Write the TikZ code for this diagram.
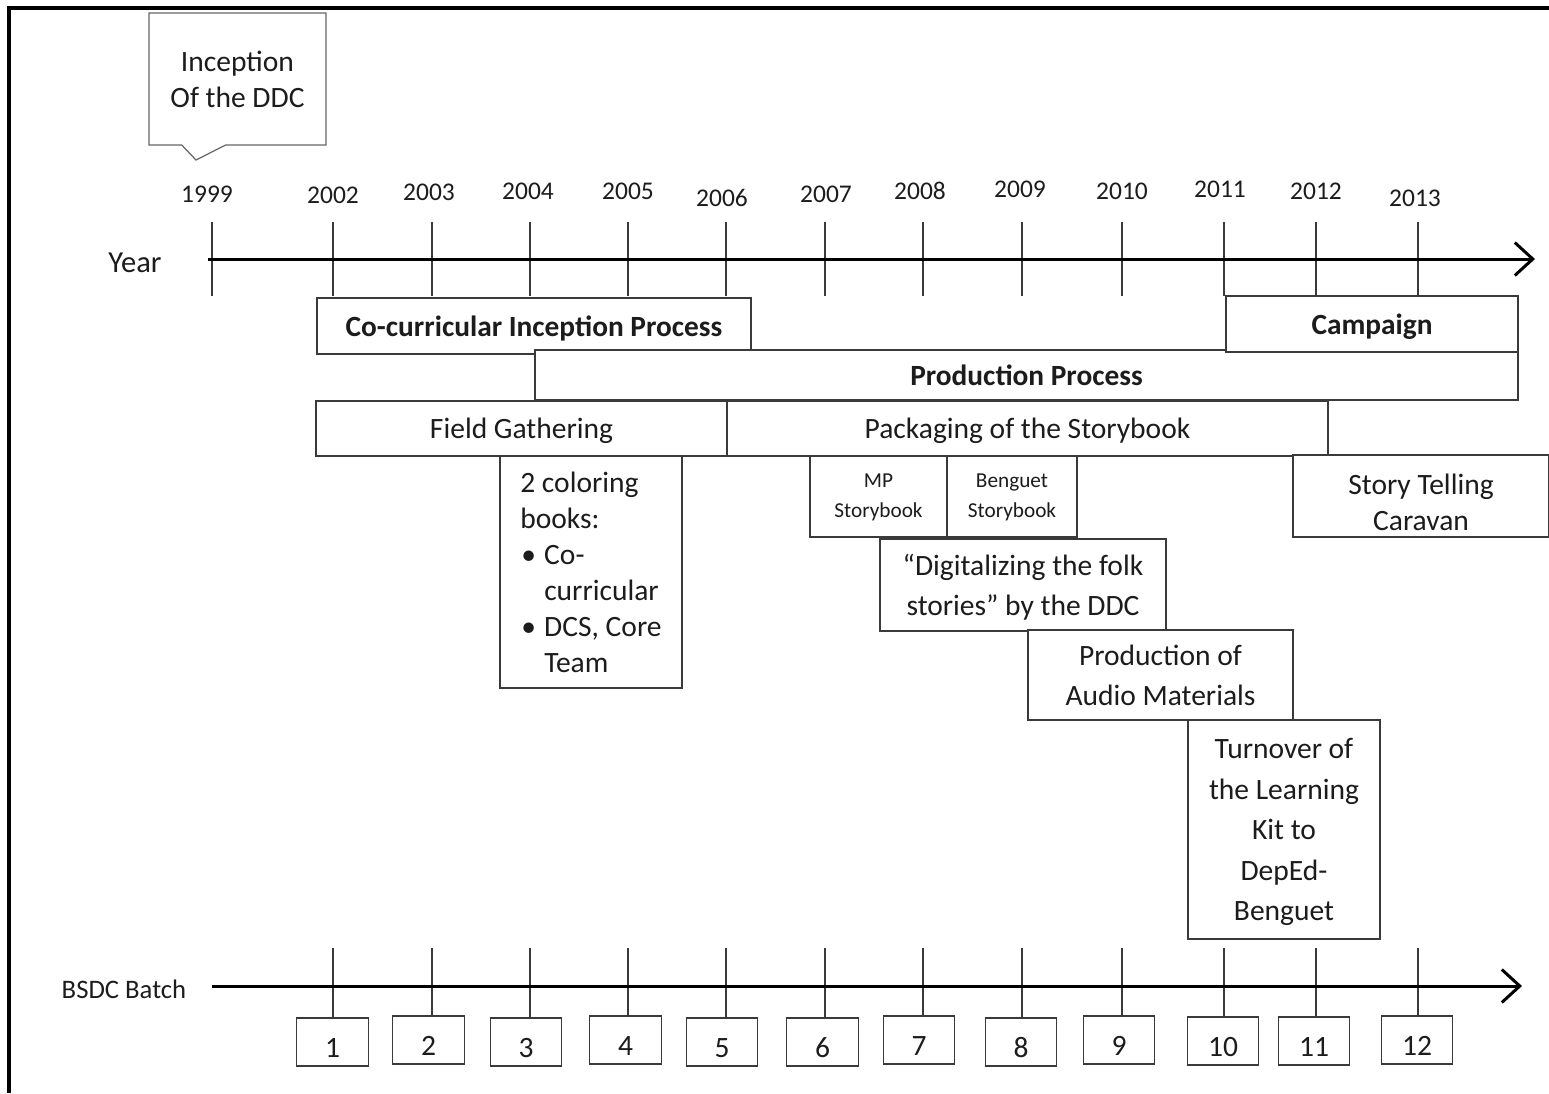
\documentclass[tikz,border=0pt]{standalone}
\usepackage{fontspec}
\setmainfont{Carlito}
\usepackage{xcolor}
\usepackage{tikz}
\usetikzlibrary{arrows.meta,shapes.callouts}
\definecolor{clinea}{HTML}{3A3A3A}
\definecolor{ctexto}{HTML}{1C1C1C}
\newcommand{\bul}{\makebox[13.6pt][l]{\hspace{0.6pt}\textbullet}}
\newcommand{\ind}{\hspace*{13.6pt}}
\tikzset{
  bar/.style={rectangle, draw=clinea, fill=white, line width=0.8pt, align=center,
    inner sep=2pt, text=ctexto, text depth=0pt, font=\fontsize{16.8}{20.5}\selectfont},
  barb/.style={bar, font=\fontsize{16.7}{20.5}\selectfont\bfseries},
  barp/.style={bar, text depth=1pt, font=\fontsize{12.1}{17}\selectfont},
  lote/.style={bar, minimum width=1.43cm, minimum height=0.96cm,
    font=\fontsize{16.8}{18}\selectfont, text height=17.3pt, text depth=0pt},
  anio/.style={font=\fontsize{14.5}{16}\selectfont, text=ctexto},
  etq/.style={text=ctexto},
  marca/.style={draw=clinea, line width=0.8pt},
  eje/.style={-{Straight Barb[length=3.6mm,width=6.6mm]}, line width=1.7pt, draw=black},
}
\begin{document}
\begin{tikzpicture}[x=0.02cm, y=-0.02cm]
  \useasboundingbox (0,0) rectangle (1549,1093);
  \draw[line width=2pt] (9,1093) -- (9,8) -- (1549,8);

  % year axis
  \node[rectangle callout, draw=gray!80!black, line width=0.7pt, minimum width=3.54cm,
    minimum height=2.64cm, align=center, text=ctexto, callout pointer width=0.88cm,
    callout absolute pointer={(196,160)}, font=\fontsize{16.8}{20.5}\selectfont]
    (inic) at (237.5,79) {Inception\\Of the DDC};
  \node[etq, font=\fontsize{17.4}{20}\selectfont] (year) at (135,263) {Year};
  \coordinate (ys) at (208,259); \coordinate (ye) at (1535,259);
  \node[anio] (a1999) at (207,194) {1999}; \node[anio] (a2002) at (333,195) {2002};
  \node[anio] (a2003) at (429,192) {2003}; \node[anio] (a2004) at (528,191) {2004};
  \node[anio] (a2005) at (628,191) {2005}; \node[anio] (a2006) at (722,198) {2006};
  \node[anio] (a2007) at (826,194) {2007}; \node[anio] (a2008) at (920,191) {2008};
  \node[anio] (a2009) at (1020,189) {2009}; \node[anio] (a2010) at (1122,191) {2010};
  \node[anio] (a2011) at (1220,189) {2011}; \node[anio] (a2012) at (1316,191) {2012};
  \node[anio] (a2013) at (1415,198) {2013};
  \coordinate (t1) at (212,222); \coordinate (t2) at (333,222); \coordinate (t3) at (432,222);
  \coordinate (t4) at (530,222); \coordinate (t5) at (628,222); \coordinate (t6) at (726,222);
  \coordinate (t7) at (825,222); \coordinate (t8) at (923,222); \coordinate (t9) at (1022,222);
  \coordinate (t10) at (1122,222); \coordinate (t11) at (1224,222); \coordinate (t12) at (1316,222);
  \coordinate (t13) at (1418,222);
  \draw[marca] (t1) -- ++(0,74); \draw[marca] (t2) -- ++(0,74); \draw[marca] (t3) -- ++(0,74);
  \draw[marca] (t4) -- ++(0,74); \draw[marca] (t5) -- ++(0,74); \draw[marca] (t6) -- ++(0,74);
  \draw[marca] (t7) -- ++(0,74); \draw[marca] (t8) -- ++(0,74); \draw[marca] (t9) -- ++(0,74);
  \draw[marca] (t10) -- ++(0,74); \draw[marca] (t11) -- ++(0,74); \draw[marca] (t12) -- ++(0,74);
  \draw[marca] (t13) -- ++(0,74);
  \draw[eje] (ys) -- (ye);

  % phases
  \node[barb, minimum width=8.68cm, minimum height=1.12cm] (cocur) at (534,326) {Co-curricular Inception Process};
  \node[barb, minimum width=19.66cm, minimum height=1.0cm] (prod) at (1026.5,375) {Production Process};
  \node[barb, minimum width=5.84cm, minimum height=1.12cm] (camp) at (1372,324) {Campaign};
  \node[bar, minimum width=8.22cm, minimum height=1.1cm] (field) at (521.5,428.5) {Field Gathering};
  \node[bar, minimum width=12.02cm, minimum height=1.1cm] (pack) at (1027.5,428.5) {Packaging of the Storybook};
  \node[bar, minimum width=3.64cm, minimum height=4.64cm, align=left]
    (color) at (591,572) {2 coloring\\books:\\\bul Co-\\\ind curricular\\\bul DCS, Core\\\ind Team};
  \node[barp, minimum width=2.74cm, minimum height=1.62cm] (mp) at (878.5,496.5) {MP\\Storybook};
  \node[barp, minimum width=2.6cm, minimum height=1.62cm] (beng) at (1012,496.5) {Benguet\\Storybook};
  \node[bar, minimum width=5.12cm, minimum height=1.64cm] (story) at (1421,496) {\rule{0pt}{18.3pt}Story Telling\\Caravan};
  \node[bar, minimum width=5.72cm, minimum height=1.84cm, font=\fontsize{16.8}{23}\selectfont]
    (digit) at (1023,585) {``Digitalizing the folk\\stories'' by the DDC};
  \node[bar, minimum width=5.3cm, minimum height=1.8cm, font=\fontsize{16.8}{23}\selectfont]
    (audio) at (1160.5,675) {Production of\\Audio Materials};
  \node[bar, minimum width=3.84cm, minimum height=4.38cm, font=\fontsize{16.8}{23}\selectfont]
    (turn) at (1284,829.5) {Turnover of\\the Learning\\Kit to\\DepEd-\\Benguet};

  % batch axis
  \node[etq, font=\fontsize{15.2}{18}\selectfont] (bsdc) at (124,989) {BSDC Batch};
  \coordinate (bs) at (212,986); \coordinate (be) at (1522,986);
  \node[lote] (b1) at (332.5,1042) {1}; \node[lote] (b2) at (428.5,1040) {2};
  \node[lote] (b3) at (526,1042) {3}; \node[lote] (b4) at (625.5,1040) {4};
  \node[lote] (b5) at (722,1042) {5}; \node[lote] (b6) at (822.5,1042) {6};
  \node[lote] (b7) at (919,1040) {7}; \node[lote] (b8) at (1021,1042) {8};
  \node[lote] (b9) at (1119,1040) {9}; \node[lote] (b10) at (1223,1041) {10};
  \node[lote] (b11) at (1314,1041) {11}; \node[lote] (b12) at (1417,1040) {12};
  \coordinate (m1) at (333,948); \coordinate (m2) at (432,948); \coordinate (m3) at (530,948);
  \coordinate (m4) at (628,948); \coordinate (m5) at (726,948); \coordinate (m6) at (825,948);
  \coordinate (m7) at (923,948); \coordinate (m8) at (1022,948); \coordinate (m9) at (1122,948);
  \coordinate (m10) at (1224,948); \coordinate (m11) at (1316,948); \coordinate (m12) at (1418,948);
  \draw[marca] (m1) -- (m1 |- b1.north); \draw[marca] (m2) -- (m2 |- b2.north);
  \draw[marca] (m3) -- (m3 |- b3.north); \draw[marca] (m4) -- (m4 |- b4.north);
  \draw[marca] (m5) -- (m5 |- b5.north); \draw[marca] (m6) -- (m6 |- b6.north);
  \draw[marca] (m7) -- (m7 |- b7.north); \draw[marca] (m8) -- (m8 |- b8.north);
  \draw[marca] (m9) -- (m9 |- b9.north); \draw[marca] (m10) -- (m10 |- b10.north);
  \draw[marca] (m11) -- (m11 |- b11.north); \draw[marca] (m12) -- (m12 |- b12.north);
  \draw[eje] (bs) -- (be);
\end{tikzpicture}
\end{document}
